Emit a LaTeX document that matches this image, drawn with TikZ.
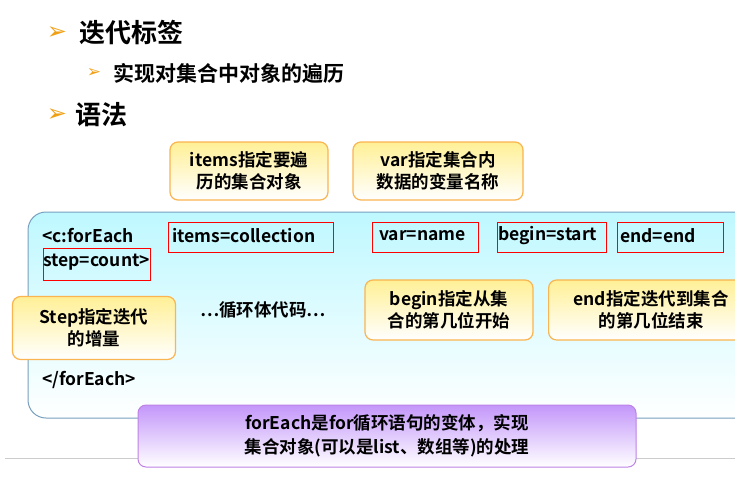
\documentclass[tikz,border=0pt]{standalone}
\usepackage{fontspec}
\setmainfont{Noto Sans CJK SC}[BoldFont={Noto Sans CJK SC Bold}]
\newfontfamily\symfont{DejaVu Sans}
\usetikzlibrary{positioning,shadows}

\definecolor{calloutline}{RGB}{250,180,80}
\definecolor{calloutfill}{RGB}{255,240,150}
\definecolor{codeline}{RGB}{120,160,190}
\definecolor{codefill}{RGB}{190,248,255}
\definecolor{noteline}{RGB}{190,130,230}
\definecolor{notefill}{RGB}{195,150,250}
\definecolor{bulletcol}{RGB}{240,160,20}

\tikzset{
  callout/.style={rectangle, rounded corners=8pt, draw=calloutline, line width=1.2pt,
    top color=calloutfill, bottom color=white, align=center, font=\bfseries\fontsize{17.5}{22}\selectfont,
    inner sep=2pt},
  codetext/.style={anchor=west, font=\bfseries\fontsize{17.5}{20}\selectfont, inner sep=0pt},
  attrbox/.style={draw=red, line width=0.8pt, minimum height=30pt, anchor=west},
  bulletmark/.style={text=bulletcol, font=\symfont\bfseries\fontsize{24}{26}\selectfont, anchor=center},
}

\begin{document}
\begin{tikzpicture}[x=1pt,y=-1pt]
\useasboundingbox (0,0) rectangle (735,477);
\fill[white] (0,0) rectangle (735,477);

% heading lines
\node (b1) [bulletmark] at (57,33) {➢};
\node (h1) [anchor=west, font=\bfseries\fontsize{26}{28}\selectfont] at (76,33) {迭代标签};
\node (b2) [bulletmark, font=\symfont\bfseries\fontsize{17}{18}\selectfont] at (94,73) {➢};
\node (h2) [anchor=west, font=\bfseries\fontsize{21}{24}\selectfont] at (110,73) {实现对集合中对象的遍历};
\node (b3) [bulletmark] at (57,115) {➢};
\node (h3) [anchor=west, font=\bfseries\fontsize{26}{28}\selectfont] at (72,115) {语法};

% footer line
\draw[gray!40, line width=1pt] (5,458) -- (735,458);

% code area
\draw[codeline, line width=1pt, rounded corners=18pt, top color=codefill, bottom color=white]
  (28,212) rectangle (760,418);

\node (open) [codetext] at (42,236) {<c:forEach};
\node (items) [attrbox, minimum width=165pt] at (168,237) {};
\node [codetext] at (172,236) {items=collection};
\node (var) [attrbox, minimum width=106pt] at (372,237) {};
\node [codetext] at (379,236) {var=name};
\node (begin) [attrbox, minimum width=109pt] at (497,237) {};
\node [codetext] at (498,236) {begin=start};
\node (end) [attrbox, minimum width=106pt] at (617,237) {};
\node [codetext] at (620,236) {end=end};
\node (step) [attrbox, minimum width=107pt, minimum height=32pt] at (43,264) {};
\node [codetext] at (43,262) {step=count>};
\node (body) [codetext] at (200,310) {…循环体代码…};
\node (close) [codetext] at (42,380) {</forEach>};

% callouts
\node (itemsnote) [callout, minimum width=158pt, minimum height=58pt] at (249,171) {items指定要遍\\历的集合对象};
\node (varnote) [callout, minimum width=170pt, minimum height=58pt] at (438,171) {var指定集合内\\数据的变量名称};
\node (stepnote) [callout, minimum width=163pt, minimum height=63pt] at (94,328) {Step指定迭代\\的增量};
\node (beginnote) [callout, minimum width=168pt, minimum height=60pt] at (449,310) {begin指定从集\\合的第几位开始};
\node (endnote) [callout, minimum width=205pt, minimum height=60pt, anchor=west] at (548,310) {end指定迭代到集合\\的第几位结束};

% summary
\node (note) [rectangle, rounded corners=8pt, draw=noteline, line width=1pt,
  top color=notefill, bottom color=white, minimum width=498pt, minimum height=62pt,
  align=center, font=\bfseries\fontsize{17.5}{24}\selectfont] at (387,436)
  {forEach是for循环语句的变体，实现\\集合对象(可以是list、数组等)的处理};
\end{tikzpicture}
\end{document}
